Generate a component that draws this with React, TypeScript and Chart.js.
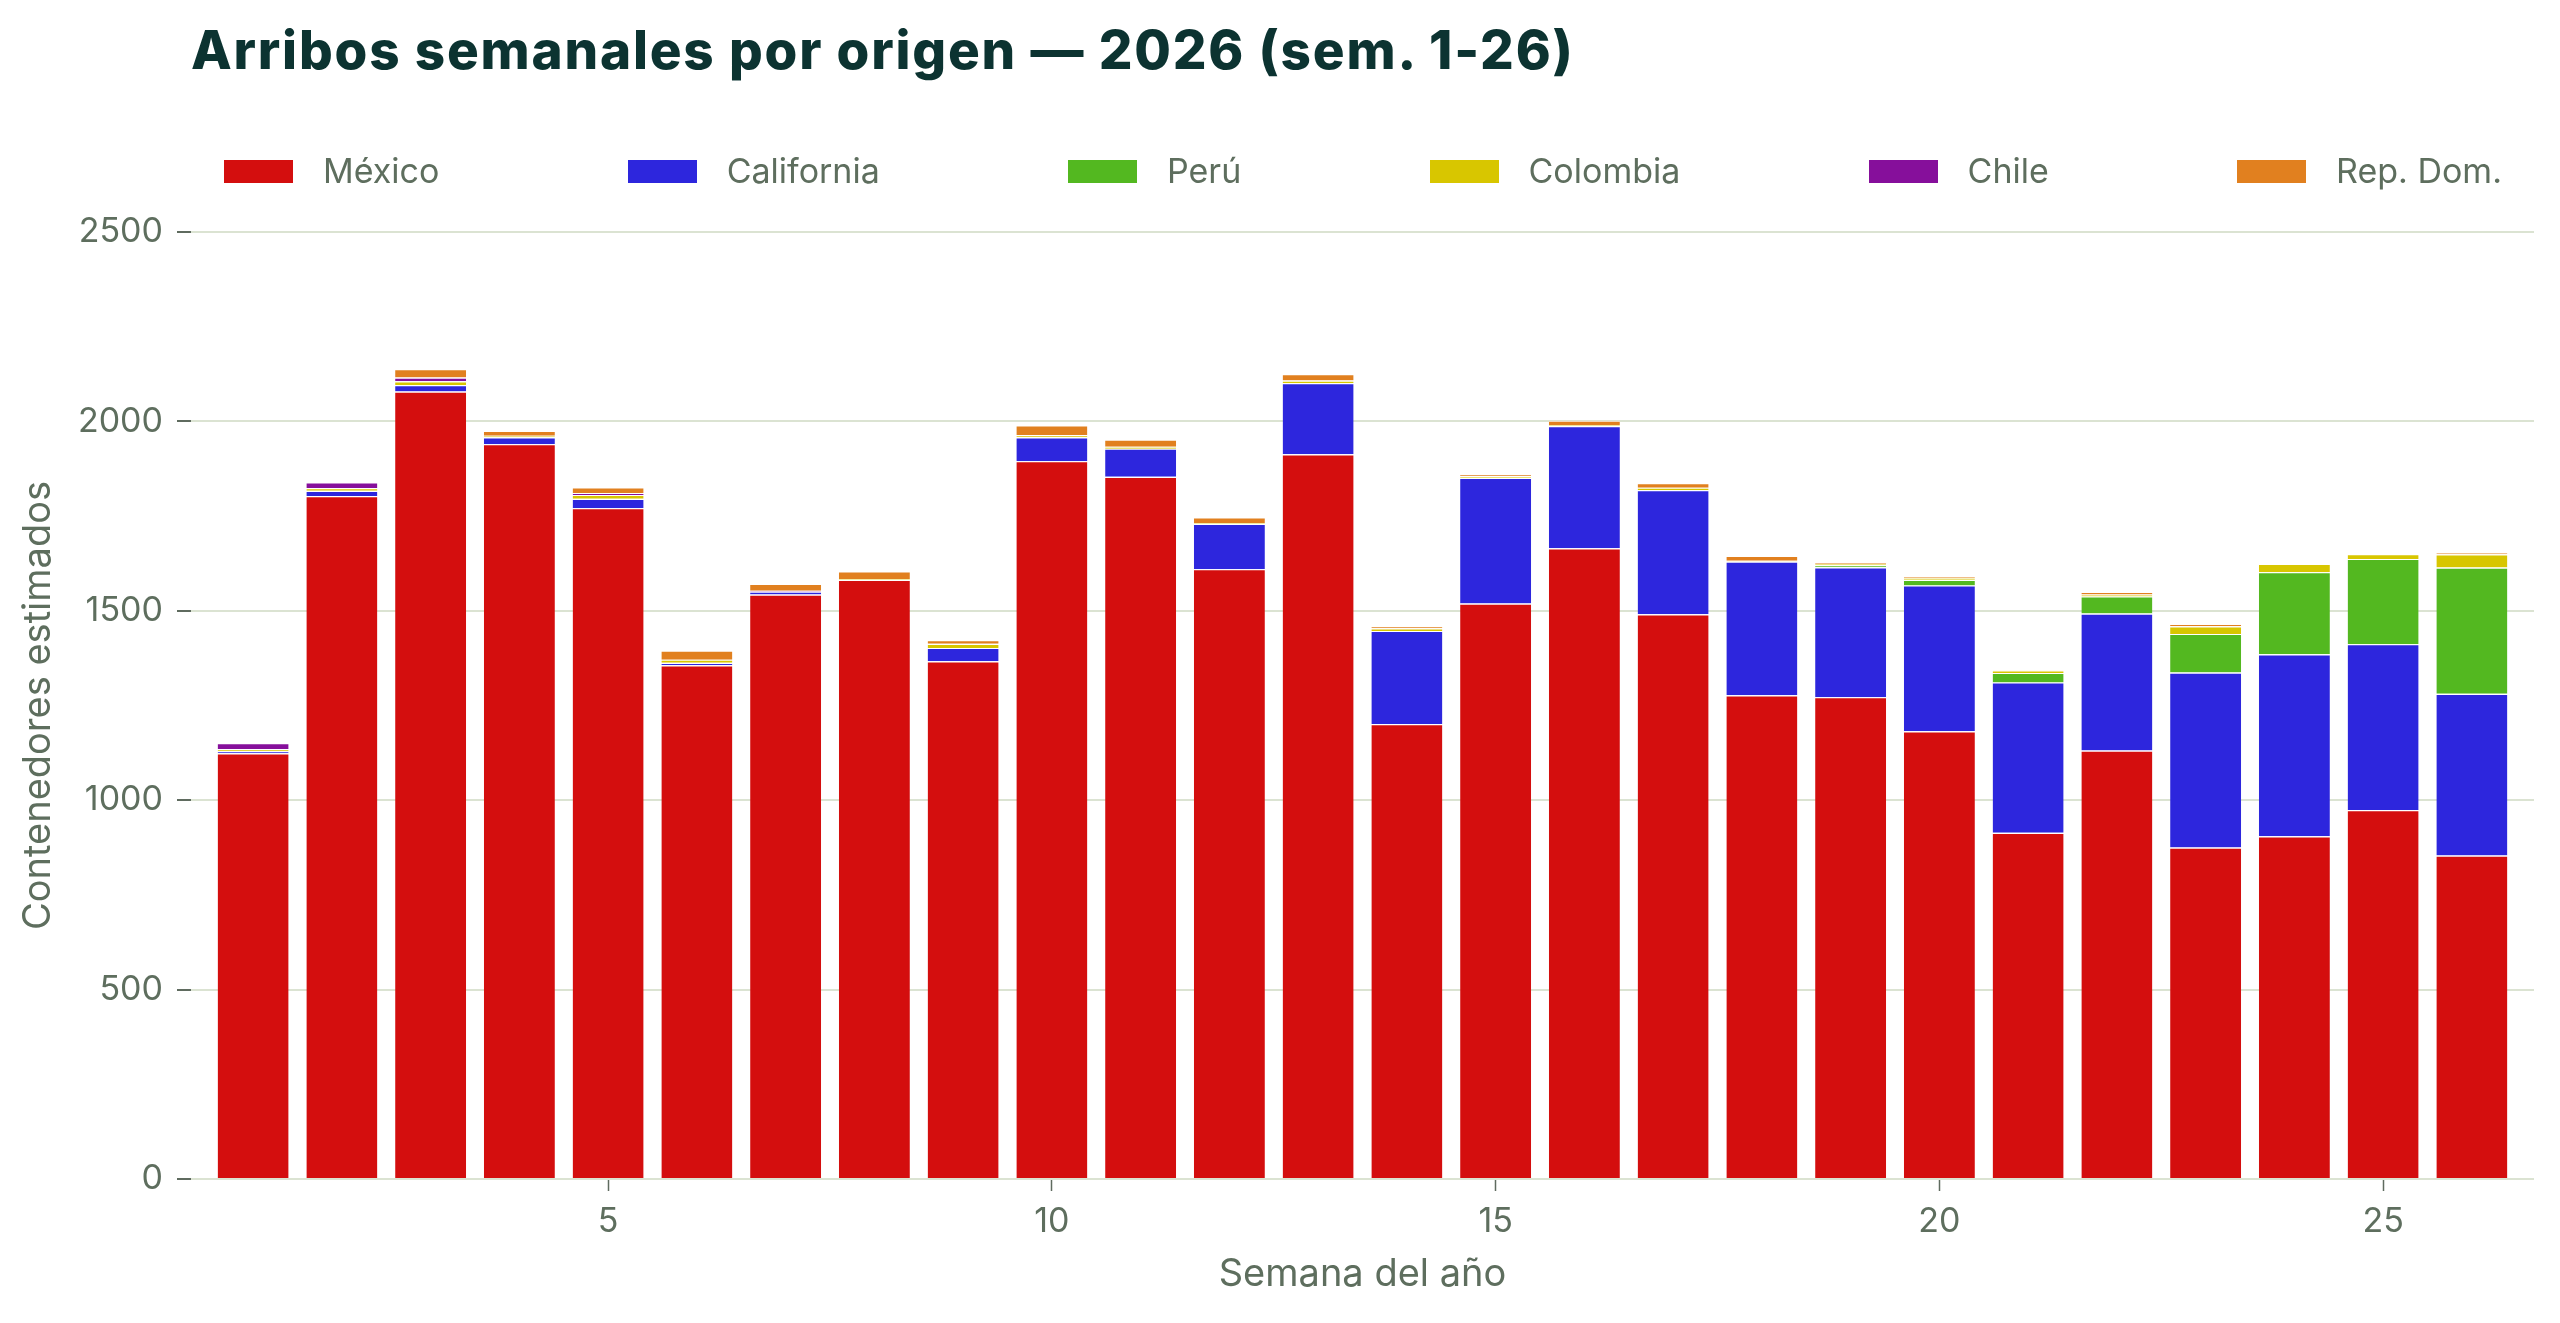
import React, { useEffect, useRef } from "react";
import { Chart, registerables } from "chart.js";

Chart.register(...registerables);

const TITLE = "Arribos semanales por origen — 2026 (sem. 1-26)";
const X_TITLE = "Semana del año";
const Y_TITLE = "Contenedores estimados";

const weeks = [1, 2, 3, 4, 5, 6, 7, 8, 9, 10, 11, 12, 13, 14, 15, 16, 17, 18, 19, 20, 21, 22, 23, 24, 25, 26];

const mexico = [1124, 1803, 2079, 1940, 1771, 1356, 1543, 1582, 1367, 1895, 1854, 1610, 1913, 1201, 1519, 1665, 1491, 1277, 1272, 1182, 914, 1131, 875, 905, 974, 854];
const california = [5, 14, 17, 18, 25, 7, 8, 0, 35, 63, 74, 120, 188, 246, 332, 323, 328, 353, 343, 385, 397, 362, 462, 480, 438, 427];
const peru = [0, 0, 0, 0, 0, 0, 0, 0, 0, 0, 0, 0, 0, 0, 0, 0, 0, 0, 5, 15, 25, 45, 102, 217, 225, 333];
const colombia = [6, 7, 10, 4, 10, 8, 0, 2, 11, 6, 5, 2, 7, 7, 5, 2, 6, 2, 4, 5, 7, 5, 20, 22, 13, 35];
const chile = [16, 15, 10, 0, 5, 0, 2, 0, 0, 0, 0, 0, 0, 0, 0, 0, 0, 0, 0, 0, 0, 0, 0, 0, 0, 0];
const repDom = [0, 0, 22, 13, 15, 24, 18, 20, 10, 26, 19, 15, 17, 5, 4, 12, 12, 13, 4, 4, 1, 7, 7, 0, 0, 4];

const seriesNames = ["México", "California", "Perú", "Colombia", "Chile", "Rep. Dom."];
const seriesColors = ["#d40e0e", "#2d26dd", "#53b820", "#d8c600", "#860f9b", "#e1801f"];
const seriesValues = [mexico, california, peru, colombia, chile, repDom];

const yTicks = [0, 500, 1000, 1500, 2000, 2500];
const xTicks = [5, 10, 15, 20, 25];

const TEXT_COLOR = "#5e6e5e";
const FONT = "Inter, 'Noto Sans', sans-serif";

export default function App() {
  const canvasRef = useRef<HTMLCanvasElement | null>(null);

  useEffect(() => {
    document.body.style.margin = "0";
    document.body.style.overflow = "hidden";
    const canvas = canvasRef.current;
    if (!canvas) return;
    const chart = new Chart(canvas, {
      type: "bar",
      data: {
        datasets: seriesNames.map((name, si) => ({
          label: name,
          data: weeks.map((w, i) => ({ x: w, y: seriesValues[si][i] })),
          backgroundColor: seriesColors[si],
          borderColor: "rgba(255,255,255,0.9)",
          borderWidth: { top: 1.2, left: 0, right: 0, bottom: 0 },
          borderSkipped: false,
          categoryPercentage: 1,
          barPercentage: 0.8,
        })),
      },
      options: {
        animation: false,
        responsive: true,
        maintainAspectRatio: false,
        layout: { padding: { top: 232, left: 0, right: 26, bottom: 0 } },
        plugins: {
          legend: { display: false },
          title: { display: false },
          tooltip: { enabled: false },
        },
        scales: {
          x: {
            type: "linear",
            stacked: true,
            min: 0.3,
            max: 26.7,
            offset: false,
            afterBuildTicks: (s: any) => {
              s.ticks = xTicks.map((v) => ({ value: v }));
            },
            afterFit: (s: any) => {
              s.height = 144;
            },
            grid: {
              display: true,
              drawOnChartArea: false,
              drawTicks: true,
              tickLength: 12,
              tickColor: "#5f6b5f",
              tickWidth: 1.5,
              offset: false,
            },
            border: { display: false },
            ticks: {
              color: TEXT_COLOR,
              font: { family: FONT, size: 34 },
              padding: 10,
              maxRotation: 0,
              callback: (v: any) => String(v),
            },
            title: {
              display: true,
              text: X_TITLE,
              color: TEXT_COLOR,
              font: { family: FONT, size: 38 },
              padding: { top: 0, bottom: 26 },
            },
          },
          y: {
            stacked: true,
            min: 0,
            max: 2500,
            afterBuildTicks: (s: any) => {
              s.ticks = yTicks.map((v) => ({ value: v }));
            },
            afterFit: (s: any) => {
              s.width = 191;
            },
            grid: {
              color: "#dbe3d2",
              lineWidth: 2,
              drawTicks: true,
              tickLength: 14,
              tickColor: "#5f6b5f",
              tickWidth: 2,
            },
            border: { display: false },
            ticks: {
              color: TEXT_COLOR,
              font: { family: FONT, size: 34 },
              padding: 14,
              callback: (v: any) => String(v),
            },
            title: {
              display: true,
              text: Y_TITLE,
              color: TEXT_COLOR,
              font: { family: FONT, size: 38 },
              padding: { top: 16, bottom: 0 },
            },
          },
        },
      },
    });
    return () => chart.destroy();
  }, []);

  return (
    <div style={{ position: "relative", width: 2560, height: 1323, background: "#ffffff", overflow: "hidden" }}>
      <div style={{ position: "absolute", left: 0, top: 0, width: 2560, height: 1323 }}>
        <canvas ref={canvasRef} />
      </div>
      <div
        style={{
          position: "absolute",
          left: 191,
          top: 24,
          fontFamily: FONT,
          fontWeight: 800,
          fontSize: 53,
          lineHeight: 1,
          letterSpacing: 1.8,
          color: "#0c3331",
          whiteSpace: "nowrap",
        }}
      >
        {TITLE}
      </div>
      <div
        style={{
          position: "absolute",
          left: 224,
          width: 2278,
          top: 154,
          height: 34,
          display: "flex",
          justifyContent: "space-between",
          alignItems: "center",
          fontFamily: FONT,
          fontSize: 34,
          lineHeight: 1,
          color: TEXT_COLOR,
        }}
      >
        {seriesNames.map((name, i) => (
          <div key={name} style={{ display: "flex", alignItems: "center", whiteSpace: "nowrap" }}>
            <span style={{ display: "inline-block", width: 69, height: 23, background: seriesColors[i], marginRight: 30 }} />
            <span>{name}</span>
          </div>
        ))}
      </div>
    </div>
  );
}
